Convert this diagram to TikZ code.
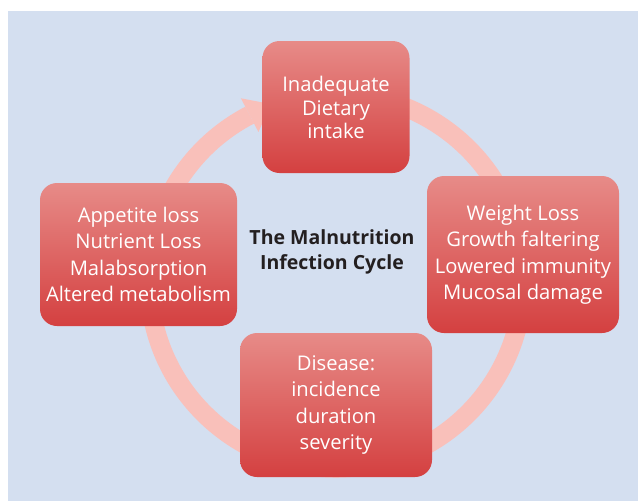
\documentclass[tikz,border=0pt]{standalone}
\usepackage{fontspec}
\setmainfont{Open Sans}
\usetikzlibrary{calc}

\definecolor{panelbg}{RGB}{212,223,240}
\definecolor{ringpink}{RGB}{249,192,186}
\definecolor{boxtop}{RGB}{231,139,136}
\definecolor{boxbottom}{RGB}{212,64,64}
\definecolor{titlegray}{RGB}{35,31,32}

\tikzset{
  cyclebox/.style={
    rectangle, rounded corners=17pt,
    top color=boxtop, bottom color=boxbottom, draw=none,
    text=white, align=center, inner sep=0pt,
    font=\fontsize{20.2}{26.5}\selectfont
  },
  ring/.style={draw=ringpink, line width=19pt, line cap=butt},
  headfill/.style={fill=ringpink, draw=none},
  titletext/.style={align=center, text=titlegray,
    font=\bfseries\fontsize{19.5}{25}\selectfont}
}

\begin{document}
\begin{tikzpicture}[x=1pt, y=-1pt]
  % canvas and panel
  \useasboundingbox (0,0) rectangle (638,501);
  \fill[white] (0,0) rectangle (638,501);
  \fill[panelbg] (8,11) rectangle (638,501);

  % circular arrow behind the boxes
  \coordinate (c) at (336,281);
  \draw[ring] ($(c)+(-100:187)$) arc[start angle=-100, end angle=242.5, radius=187];
  \coordinate (hb) at ($(c)+(-117.5:187)$);
  \coordinate (hw1) at ($(c)+(-117.5:206)$);
  \coordinate (hw2) at ($(c)+(-117.5:168)$);
  \coordinate (tip) at ($(hb)+(-27.5:24)$);
  \fill[headfill] (hw1) -- (tip) -- (hw2) -- cycle;

  % the four stages
  \node[cyclebox, minimum width=147pt, minimum height=132pt] (intake) at (336,107)
    {Inadequate\\[-2pt]Dietary\\[-4pt]intake};
  \node[cyclebox, minimum width=192pt, minimum height=157pt] (weight) at (523,254.5)
    {Weight Loss\\Growth faltering\\Lowered immunity\\Mucosal damage};
  \node[cyclebox, minimum width=192pt, minimum height=144pt] (disease) at (336,405)
    {Disease:\\incidence\\duration\\severity};
  \node[cyclebox, minimum width=197pt, minimum height=143pt] (appetite) at (138.5,254.5)
    {Appetite loss\\Nutrient Loss\\Malabsorption\\Altered metabolism};

  % centre title
  \node[titletext] (title) at (332,252) {The Malnutrition\\Infection Cycle};
\end{tikzpicture}
\end{document}
